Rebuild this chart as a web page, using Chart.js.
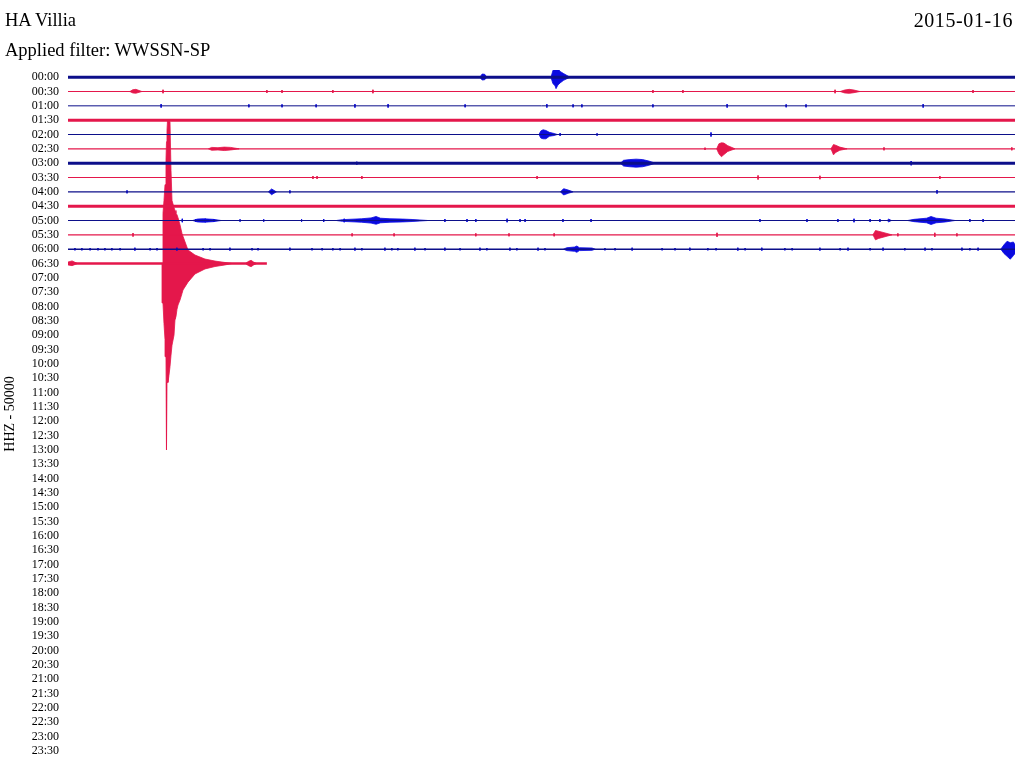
<!DOCTYPE html>
<html>
<head>
<meta charset="utf-8">
<script src="https://cdn.jsdelivr.net/npm/chart.js@4.4.0/dist/chart.umd.min.js"></script>
<style>
html, body { margin: 0; padding: 0; background: #fff; }
#wrap { position: relative; width: 1019px; height: 767px; }
.lbl { position: absolute; font-family: "Liberation Serif", serif; font-size: 18.5px; color: #000; white-space: nowrap; line-height: 1; }
</style>
</head>
<body>
<div id="wrap">
  <canvas id="heli" width="1019" height="767"></canvas>
  <div class="lbl" style="left:5px;top:11px">HA Villia</div>
  <div class="lbl" style="right:6px;top:10px;font-size:20px;letter-spacing:0.6px">2015-01-16</div>
  <div class="lbl" style="left:5px;top:41px">Applied filter: WWSSN-SP</div>
</div>
<script>
// helicorder rows, 30 min each
const rowLabels = ['00:00','00:30','01:00','01:30','02:00','02:30','03:00','03:30','04:00','04:30','05:00','05:30',
  '06:00','06:30','07:00','07:30','08:00','08:30','09:00','09:30','10:00','10:30','11:00','11:30',
  '12:00','12:30','13:00','13:30','14:00','14:30','15:00','15:30','16:00','16:30','17:00','17:30',
  '18:00','18:30','19:00','19:30','20:00','20:30','21:00','21:30','22:00','22:30','23:00','23:30'];

// minutes of data in each row that has a trace
const traceEnd = [30, 30, 30, 30, 30, 30, 30, 30, 30, 30, 30, 30, 30, 6.30];

// small spikes per row: [minute, amplitude in trace spacings]
const spikes = [
  [],
  [[3.01,0.12],[6.30,0.1],[6.78,0.1],[8.39,0.1],[9.66,0.12],[18.53,0.1],[19.48,0.1],[24.30,0.12],[28.67,0.1]],
  [[2.95,0.12],[5.73,0.1],[6.78,0.1],[7.86,0.1],[9.09,0.12],[10.14,0.12],[12.58,0.1],[15.17,0.12],[16.00,0.1],
   [16.28,0.1],[18.53,0.1],[20.88,0.12],[22.75,0.1],[23.38,0.1],[27.09,0.12]],
  [],
  [[15.59,0.1],[16.76,0.08],[20.37,0.14]],
  [[20.18,0.08],[25.85,0.1],[29.90,0.1]],
  [[9.15,0.1],[26.71,0.15]],
  [[7.76,0.1],[7.89,0.1],[9.31,0.1],[14.86,0.1],[21.86,0.14],[23.82,0.12],[27.62,0.1]],
  [[1.87,0.1],[7.03,0.1],[27.53,0.12]],
  [],
  [[3.62,0.12],[4.05,0.1],[4.35,0.12],[4.62,0.1],[5.45,0.08],[6.2,0.08],[7.4,0.08],[8.1,0.1],[8.75,0.12],
   [11.94,0.1],[12.64,0.1],[12.92,0.1],[13.91,0.12],[14.32,0.1],[14.48,0.1],[15.68,0.1],[16.57,0.1],[21.92,0.1],
   [23.41,0.1],[24.39,0.1],[24.90,0.12],[25.41,0.1],[25.72,0.1],[28.57,0.1],[28.99,0.1]],
  [[2.06,0.12],[9.00,0.1],[10.33,0.1],[12.92,0.1],[13.97,0.1],[15.40,0.1],[20.56,0.14],[26.29,0.1],[27.46,0.14],[28.16,0.1]],
  [[0.22,0.08],[0.44,0.08],[0.70,0.08],[0.95,0.08],[1.17,0.08],[1.39,0.08],[1.65,0.08],[2.12,0.1],[2.60,0.08],[2.82,0.08],
   [3.45,0.1],[4.28,0.08],[4.50,0.08],[5.13,0.1],[5.83,0.08],[6.02,0.08],[7.03,0.1],[7.73,0.08],[8.05,0.08],[8.39,0.08],
   [8.62,0.08],[9.09,0.1],[9.31,0.08],[10.04,0.1],[10.26,0.08],[10.45,0.08],[10.99,0.1],[11.31,0.08],[11.94,0.1],[12.42,0.08],
   [13.05,0.1],[13.27,0.08],[14.00,0.1],[14.22,0.08],[14.89,0.1],[15.11,0.08],[17.01,0.08],[17.33,0.08],[17.87,0.1],[18.82,0.08],
   [19.23,0.08],[19.70,0.1],[20.27,0.08],[20.53,0.08],[21.22,0.1],[21.45,0.08],[21.98,0.1],[22.71,0.08],[22.94,0.08],[23.82,0.1],
   [24.46,0.08],[24.71,0.1],[25.41,0.08],[25.82,0.1],[26.51,0.08],[27.15,0.1],[27.37,0.08],[28.32,0.1],[28.57,0.08],[28.83,0.1]],
  []
];

// wave bursts: [minute, amplitude up, amplitude down] envelopes
const quake0633 = [[2.978,0,0],[3.009,3.5,2.75],[3.041,4.4,4.2],[3.073,5.5,5.3],[3.104,7.2,6.5],[3.120,8.5,13.0],
  [3.136,9.3,8.3],[3.152,9.95,8.3],[3.168,9.95,8.3],[3.199,9.95,7.8],[3.231,9.9,7.2],[3.263,6.5,6.4],[3.295,4.4,5.7],
  [3.358,3.9,5.0],[3.390,3.7,3.9],[3.421,3.5,3.7],[3.453,3.4,3.2],[3.485,3.2,2.9],[3.548,2.7,2.55],[3.611,2.1,2.1],
  [3.643,1.9,1.85],[3.801,0.94,1.3],[4.023,0.59,0.73],[4.340,0.31,0.38],[4.657,0.17,0.21],[4.973,0.07,0.1],[5.195,0,0]];
const event0015 = [[15.30,0,0],[15.36,0.45,0.45],[15.43,0.7,0.6],[15.46,0.77,0.8],[15.52,0.6,0.55],[15.59,0.4,0.4],[15.70,0.25,0.22],[15.90,0,0]];
const swarm0509 = [[8.5,0,0],[8.7,0.06,0.06],[9.3,0.12,0.12],[9.6,0.18,0.18],[9.76,0.28,0.26],[9.9,0.16,0.16],
  [10.2,0.12,0.12],[10.6,0.1,0.1],[10.9,0.07,0.07],[11.4,0,0]];
const bursts = [
  [0, [[13.05,0,0],[13.12,0.22,0.2],[13.2,0.2,0.18],[13.27,0,0]]],
  [0, event0015],
  [1, [[1.96,0,0],[2.05,0.12,0.1],[2.15,0.15,0.12],[2.34,0,0]]],
  [1, [[24.46,0,0],[24.6,0.1,0.1],[24.75,0.15,0.13],[24.9,0.1,0.08],[25.09,0,0]]],
  [4, [[14.92,0,0],[14.98,0.25,0.25],[15.05,0.33,0.3],[15.14,0.28,0.3],[15.25,0.15,0.12],[15.4,0.07,0.07],[15.5,0,0]]],
  [5, [[4.45,0,0],[4.55,0.1,0.1],[4.75,0.08,0.08],[4.95,0.12,0.12],[5.15,0.1,0.08],[5.42,0,0]]],
  [5, [[20.55,0,0],[20.62,0.35,0.35],[20.70,0.42,0.55],[20.78,0.4,0.4],[20.90,0.22,0.18],[21.13,0,0]]],
  [5, [[24.17,0,0],[24.25,0.3,0.42],[24.32,0.25,0.25],[24.45,0.12,0.1],[24.68,0,0]]],
  [6, [[17.50,0,0],[17.6,0.2,0.2],[17.8,0.25,0.25],[18.0,0.28,0.28],[18.2,0.25,0.25],[18.4,0.15,0.15],[18.6,0,0]]],
  [8, [[6.35,0,0],[6.45,0.2,0.2],[6.6,0,0]]],
  [8, [[15.6,0,0],[15.7,0.22,0.22],[15.85,0.12,0.1],[16.0,0,0]]],
  [10, [[3.95,0,0],[4.1,0.1,0.1],[4.3,0.12,0.12],[4.6,0.08,0.08],[4.85,0,0]]],
  [10, swarm0509],
  [10, [[26.6,0,0],[26.8,0.08,0.08],[27.2,0.16,0.16],[27.34,0.28,0.28],[27.5,0.16,0.16],[27.8,0.1,0.1],[28.1,0,0]]],
  [10, [[25.95,0,0],[26.0,0.1,0.1],[26.08,0,0]]],
  [11, [[25.50,0,0],[25.58,0.3,0.35],[25.68,0.25,0.25],[25.85,0.15,0.15],[26.1,0,0]]],
  [12, [[15.7,0,0],[15.8,0.1,0.1],[16.05,0.15,0.15],[16.12,0.22,0.22],[16.2,0.1,0.1],[16.6,0.08,0.08],[16.7,0,0]]],
  [12, [[29.55,0,0],[29.65,0.3,0.3],[29.75,0.55,0.5],[29.85,0.45,0.7],[29.95,0.5,0.45],[30,0.3,0.3]]],
  [13, [[0,0.1,0.1],[0.13,0.18,0.15],[0.3,0,0]]],
  [13, [[5.62,0,0],[5.72,0.15,0.15],[5.8,0.22,0.22],[5.88,0.1,0.1],[5.98,0,0]]],
  [13, quake0633]
];

const blueLine = '#0c0f8a', blueWave = '#0a0ae0', red = '#e4174b';
const lineWidth = [3, 1.2, 1, 3, 1.2, 1.2, 3, 1.2, 1.2, 3, 1.2, 1.2, 1.5, 2.5];

const datasets = [];

// base traces
traceEnd.forEach((end, r) => {
  datasets.push({
    data: [{x: 0, y: r}, {x: end, y: r}],
    borderColor: r % 2 ? red : blueLine,
    borderWidth: lineWidth[r]
  });
});

// little spikes, one dataset per row, broken with nulls
spikes.forEach((list, r) => {
  if (!list.length) return;
  const pts = [];
  list.forEach(([t, a]) => {
    pts.push({x: t, y: r - a}, {x: t, y: r + a}, {x: t, y: null});
  });
  datasets.push({
    data: pts,
    borderColor: r % 2 ? red : blueWave,
    borderWidth: 1
  });
});

// bursts as closed outlines
bursts.forEach(([r, env]) => {
  const top = env.map(([t, up]) => ({x: t, y: r - up}));
  const bottom = env.slice().reverse().map(([t, , dn]) => ({x: t, y: r + dn}));
  const col = r % 2 ? red : blueWave;
  datasets.push({
    data: top.concat(bottom),
    borderColor: col,
    backgroundColor: col,
    borderWidth: 0.8,
    fill: 'shape'
  });
});

new Chart(document.getElementById('heli'), {
  type: 'line',
  data: { datasets: datasets },
  options: {
    responsive: false,
    animation: false,
    events: [],
    layout: { padding: { top: 70, bottom: 9, left: 0, right: 4 } },
    elements: { point: { radius: 0 }, line: { tension: 0 } },
    plugins: { legend: { display: false }, tooltip: { enabled: false } },
    scales: {
      x: { type: 'linear', min: 0, max: 30, display: false },
      y: {
        type: 'linear',
        reverse: true,
        min: -0.5,
        max: 47.5,
        afterFit: s => { s.width = 68; s.paddingTop = 0; s.paddingBottom = 0; },
        afterBuildTicks: s => { s.ticks = rowLabels.map((_, i) => ({ value: i })); },
        ticks: {
          autoSkip: false,
          padding: 9,
          color: '#000',
          font: { family: 'Liberation Serif', size: 12 },
          callback: v => rowLabels[v]
        },
        grid: { display: false, drawTicks: false },
        border: { display: false },
        title: {
          display: true,
          text: 'HHZ - 50000',
          color: '#000',
          font: { family: 'Liberation Serif', size: 14 },
          padding: { top: 2, bottom: 0 }
        }
      }
    }
  }
});
</script>
</body>
</html>
